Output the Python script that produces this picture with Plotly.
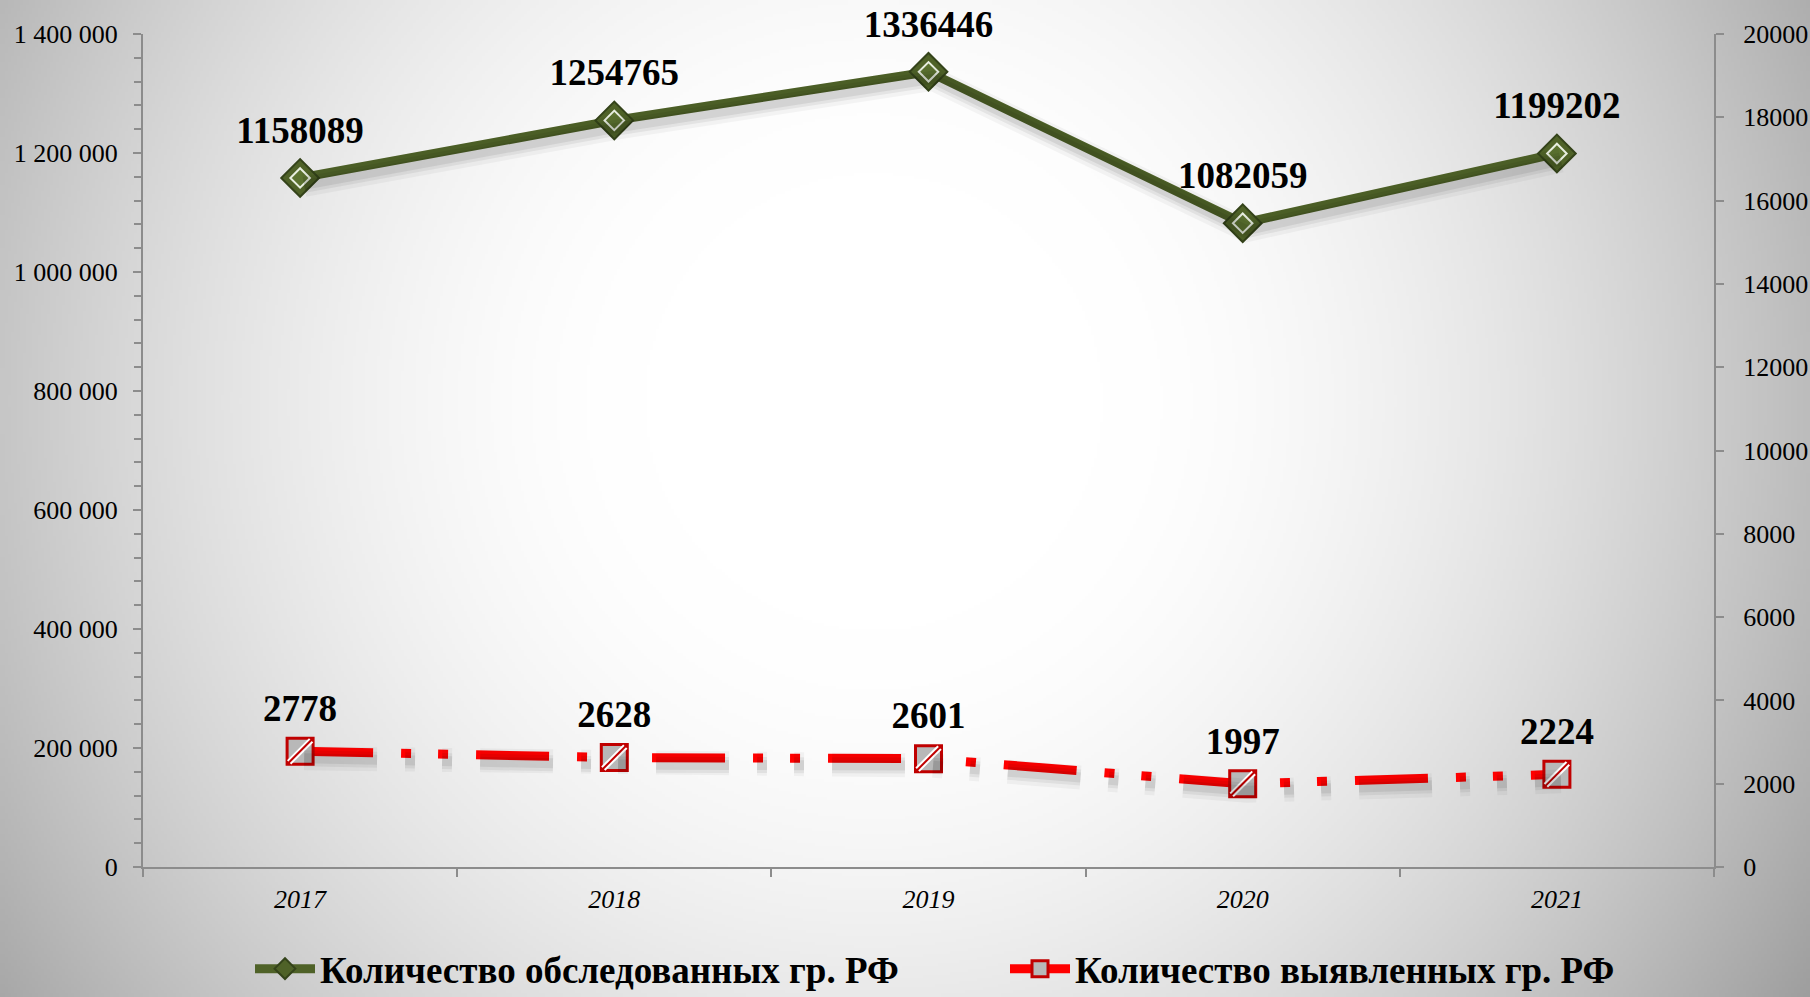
import base64, struct, zlib
import numpy as np
import plotly.graph_objects as go

# ---------------- data ----------------
years = ["2017", "2018", "2019", "2020", "2021"]
examined = [1158089, 1254765, 1336446, 1082059, 1199202]
detected = [2778, 2628, 2601, 1997, 2224]
name_examined = "Количество обследованных гр. РФ"
name_detected = "Количество выявленных гр. РФ"
y_left_max, y_left_step = 1400000, 200000
y_right_max, y_right_step = 20000, 2000

W, H = 1810, 997
ML, MR, MT, MB = 143, 96, 34, 130
FONT = "Liberation Serif"
pw = W - ML - MR
ph = H - MT - MB

# ---------------- radial gradient background (PNG data URI) ----------------
def png_uri(arr):
    h, w, _ = arr.shape
    raw = b"".join(b"\x00" + arr[i].tobytes() for i in range(h))
    def chunk(t, d):
        c = struct.pack(">I", len(d)) + t + d
        return c + struct.pack(">I", zlib.crc32(t + d) & 0xFFFFFFFF)
    png = b"\x89PNG\r\n\x1a\n" + chunk(b"IHDR", struct.pack(">IIBBBBB", w, h, 8, 2, 0, 0, 0))
    png += chunk(b"IDAT", zlib.compress(raw, 9)) + chunk(b"IEND", b"")
    return "data:image/png;base64," + base64.b64encode(png).decode()

S = 3
gw, gh = W // S, H // S
yy, xx = np.mgrid[0:gh, 0:gw]
d = np.hypot(xx * S - 872, yy * S - 400)
v = 255 - 9.6e-4 * np.clip(d - 230, 0, None) ** 1.7
v = np.clip(v, 150, 255).astype(np.uint8)
bg_uri = png_uri(np.stack([v, v, v], axis=-1))

DASH = "73px,28px,10px,27px,10px,28px"
fig = go.Figure()

# ---- soft shadows (drawn on hidden, slightly shifted overlay axes) ----
sdx, sdy = 4, 7  # shadow offset in pixels
for w_, a_ in [(24, 0.04), (16, 0.06), (10, 0.07)]:
    fig.add_trace(go.Scatter(x=years, y=examined, mode="lines", showlegend=False,
                             hoverinfo="skip", line=dict(color=f"rgba(0,0,0,{a_})", width=w_),
                             xaxis="x2", yaxis="y3"))
    fig.add_trace(go.Scatter(x=years, y=detected, mode="lines", showlegend=False,
                             hoverinfo="skip", line=dict(color=f"rgba(0,0,0,{a_})", width=w_, dash=DASH),
                             xaxis="x2", yaxis="y4"))

# examined (left axis)
fig.add_trace(go.Scatter(
    x=years, y=examined, name=name_examined, mode="lines+markers",
    line=dict(color="#4f6228", width=9),
    marker=dict(symbol="diamond", size=29, color="#4f6228",
                line=dict(color="#34431a", width=2)),
    yaxis="y", cliponaxis=False,
))
fig.add_trace(go.Scatter(
    x=years, y=examined, mode="markers", showlegend=False, hoverinfo="skip",
    marker=dict(symbol="diamond", size=15, color="#5c7330",
                line=dict(color="#e8eee0", width=2)),
    yaxis="y", cliponaxis=False,
))

# detected (right axis)
fig.add_trace(go.Scatter(
    x=years, y=detected, name=name_detected, mode="lines+markers",
    line=dict(color="#ff0000", width=9, dash=DASH),
    marker=dict(symbol="square", size=26, color="#b8b8b8",
                line=dict(color="#c00000", width=3)),
    yaxis="y2", cliponaxis=False,
))
fig.add_trace(go.Scatter(
    x=years, y=detected, mode="markers", showlegend=False, hoverinfo="skip",
    marker=dict(symbol="line-ne", size=22, color="#ffffff",
                line=dict(color="#ffffff", width=6)),
    yaxis="y2", cliponaxis=False,
))
fig.add_trace(go.Scatter(
    x=years, y=detected, mode="markers", showlegend=False, hoverinfo="skip",
    marker=dict(symbol="line-ne", size=24, color="#c00000",
                line=dict(color="#c00000", width=2)),
    yaxis="y2", cliponaxis=False,
))

# data labels (invisible marker sets the label offset)
fig.add_trace(go.Scatter(
    x=years, y=examined, mode="markers+text", showlegend=False, hoverinfo="skip",
    marker=dict(size=40, color="rgba(0,0,0,0)"),
    text=[f"<b>{v}</b>" for v in examined], textposition="top center",
    textfont=dict(family=FONT, size=37, color="#000000"),
    yaxis="y", cliponaxis=False,
))
fig.add_trace(go.Scatter(
    x=years, y=detected, mode="markers+text", showlegend=False, hoverinfo="skip",
    marker=dict(size=32, color="rgba(0,0,0,0)"),
    text=[f"<b>{v}</b>" for v in detected], textposition="top center",
    textfont=dict(family=FONT, size=37, color="#000000"),
    yaxis="y2", cliponaxis=False,
))

axis_line = "#8c8c8c"
xs = sdx / (pw / 5)
ys_l = sdy * y_left_max / ph
ys_r = sdy * y_right_max / ph
fig.update_layout(
    width=W, height=H,
    margin=dict(l=ML, r=MR, t=MT, b=MB, autoexpand=False),
    paper_bgcolor="#c8c8c8",
    plot_bgcolor="rgba(0,0,0,0)",
    separators=", ",
    font=dict(family=FONT, size=26, color="#000000"),
    showlegend=True,
    images=[dict(source=bg_uri, xref="paper", yref="paper",
                 x=-ML / pw, y=1 + MT / ph, sizex=W / pw, sizey=H / ph,
                 xanchor="left", yanchor="top", sizing="stretch", layer="below")],
    xaxis=dict(
        type="category", range=[-0.5, 4.5], showgrid=False, zeroline=False,
        showline=True, linecolor=axis_line, linewidth=2,
        ticks="outside", tickson="boundaries", ticklen=8, tickcolor=axis_line, tickwidth=2,
        tickfont=dict(family=FONT, size=26, style="italic"), ticklabelstandoff=8,
        automargin=False,
    ),
    xaxis2=dict(type="category", range=[-0.5 - xs, 4.5 - xs], overlaying="x", visible=False),
    yaxis=dict(
        range=[0, y_left_max], dtick=y_left_step, tickformat=",d", showgrid=False, zeroline=False,
        showline=True, linecolor=axis_line, linewidth=2,
        ticks="outside", ticklen=8, tickcolor=axis_line, tickwidth=2,
        minor=dict(dtick=y_left_step / 5, ticks="outside", ticklen=7, tickcolor=axis_line, tickwidth=2),
        tickfont=dict(family=FONT, size=26), ticklabelstandoff=10, automargin=False,
    ),
    yaxis2=dict(
        range=[0, y_right_max], dtick=y_right_step, tickformat="d", overlaying="y", side="right",
        showgrid=False, zeroline=False,
        showline=True, linecolor=axis_line, linewidth=2,
        ticks="outside", ticklen=8, tickcolor=axis_line, tickwidth=2,
        tickfont=dict(family=FONT, size=26), ticklabelstandoff=14, automargin=False,
    ),
    yaxis3=dict(range=[ys_l, y_left_max + ys_l], overlaying="y", visible=False),
    yaxis4=dict(range=[ys_r, y_right_max + ys_r], overlaying="y", visible=False),
    legend=dict(
        orientation="h", xref="container", x=1005 / W, xanchor="center",
        yref="container", y=0.028, yanchor="middle",
        bgcolor="rgba(0,0,0,0)", font=dict(family=FONT, size=37, weight="bold"),
        entrywidth=680, entrywidthmode="pixels", itemwidth=60, tracegroupgap=0,
    ),
)

fig.write_html("out.html", config={"displayModeBar": False},
               post_script="document.body.style.margin='0';document.body.style.overflow='hidden';")
